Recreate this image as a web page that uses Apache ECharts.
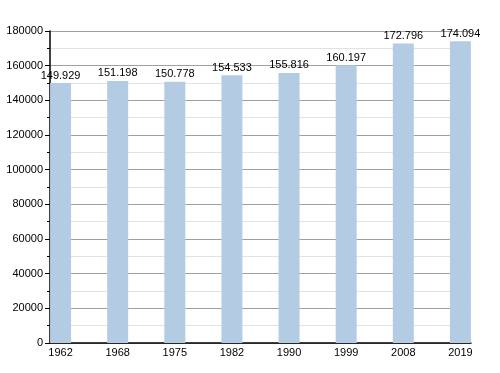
<!DOCTYPE html>
<html><head><meta charset="utf-8">
<script src="https://cdn.jsdelivr.net/npm/echarts@6/dist/echarts.min.js"></script>
<style>html,body{margin:0;padding:0;background:#fff}#c{width:500px;height:373px}</style>
</head><body><div id="c"></div>
<script>
var categories = ['1962','1968','1975','1982','1990','1999','2008','2019'];
var population = [149929, 151198, 150778, 154533, 155816, 160197, 172796, 174094];
var yTicks = [0,20000,40000,60000,80000,100000,120000,140000,160000,180000];

function fmt(v){ return String(v).replace(/\B(?=(\d{3})+(?!\d))/g,'.'); }
var idx = categories.map(function(_,i){return i;});
var chart = echarts.init(document.getElementById('c'), null, {renderer:'canvas'});
chart.setOption({
  animation:false,
  grid:{left:50,right:29,top:31,bottom:30,containLabel:false},
  xAxis:{
    type:'value', min:-0.185, max:7.185,
    axisLine:{show:true,onZero:false,lineStyle:{color:'#000',width:1.5}},
    axisTick:{show:false},
    splitLine:{show:false},
    axisLabel:{customValues:idx, formatter:function(v){return categories[Math.round(v)]||'';},
      color:'#000',fontFamily:'Liberation Sans, Arial, sans-serif',fontSize:11,margin:4,showMinLabel:true,showMaxLabel:true}
  },
  yAxis:{
    type:'value', min:0, max:180000, interval:20000,
    axisLine:{show:true,onZero:false,lineStyle:{color:'#000',width:1.5}},
    axisTick:{show:true,length:5,lineStyle:{color:'#000'}},
    minorTick:{show:true,splitNumber:2,length:3,lineStyle:{color:'#000'}},
    splitLine:{show:true,lineStyle:{color:'#a0a0a0',width:1}},
    minorSplitLine:{show:true,lineStyle:{color:'#e2e2e2',width:1}},
    axisLabel:{customValues:yTicks, formatter:function(v){return String(v);},
      color:'#000',fontFamily:'Liberation Sans, Arial, sans-serif',fontSize:11,margin:7}
  },
  series:[{
    type:'bar',
    data:population.map(function(v,i){return [idx[i],v];}),
    barWidth:21,
    itemStyle:{color:'#b3cce4'},
    label:{show:true,position:'top',distance:2,color:'#000',
      fontFamily:'Liberation Sans, Arial, sans-serif',fontSize:11,
      formatter:function(p){return fmt(p.value[1]);}}
  }]
});
</script></body></html>
